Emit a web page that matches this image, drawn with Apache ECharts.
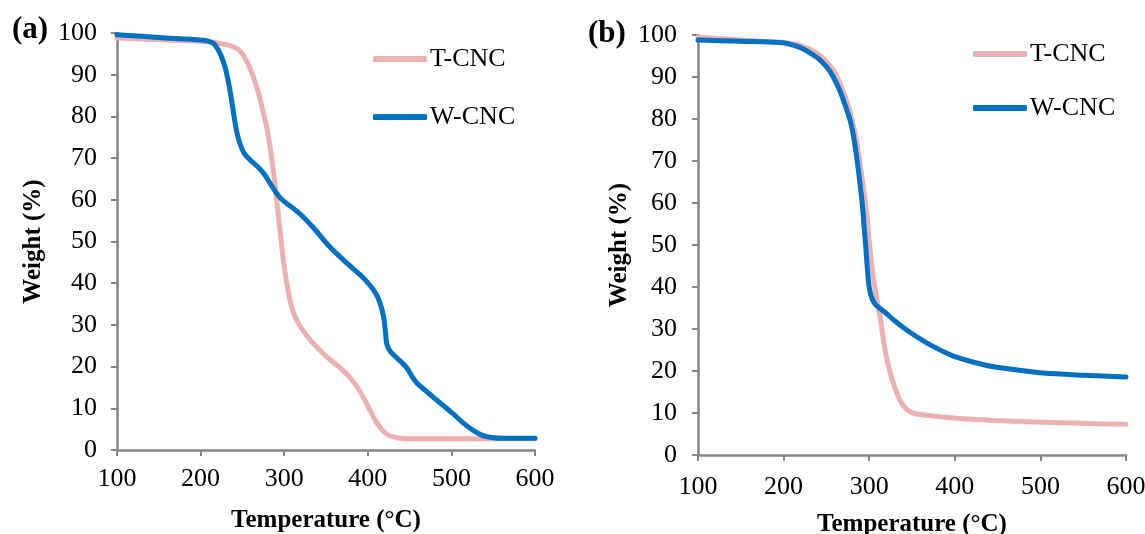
<!DOCTYPE html>
<html>
<head>
<meta charset="utf-8">
<title>TGA curves</title>
<script src="https://cdn.jsdelivr.net/npm/echarts@6/dist/echarts.min.js"></script>
<style>
  html, body { margin: 0; padding: 0; background: #fff; }
  #chart { width: 1145px; height: 534px; }
</style>
</head>
<body>
<div id="chart"></div>
<script>
// panel (a) — [temperature °C, weight %]
const tcncA = [
  [100, 98.8], [150, 98.4], [200, 98.0], [215, 97.8], [228, 97.3], [238, 96.8],
  [243, 96.3], [247, 95.7], [251, 94.7], [255, 93.3], [259, 91.6], [263, 89.5],
  [268, 86.5], [272, 83.5], [276, 80.0], [280, 76.5], [284, 71.5], [288, 65.5],
  [291, 60.0], [294, 54.5], [297, 49.0], [300, 44.0], [304, 39.0], [308, 35.0],
  [314, 31.5], [323, 28.5], [335, 25.5], [350, 22.5], [365, 20.0], [376, 18.0],
  [386, 15.5], [395, 12.5], [404, 9.0], [411, 6.5], [418, 4.6], [426, 3.4],
  [436, 2.9], [450, 2.7], [500, 2.7], [550, 2.7], [600, 2.7]
];
const wcncA = [
  [100, 99.6], [150, 98.9], [200, 98.3], [210, 98.0], [216, 97.4], [221, 96.0],
  [225, 94.3], [229, 92.0], [233, 88.5], [237, 84.0], [240, 80.0], [243, 76.5],
  [247, 73.5], [252, 71.2], [259, 69.6], [268, 68.0], [276, 66.2], [283, 64.0],
  [290, 61.8], [296, 60.3], [305, 58.8], [319, 56.6], [335, 53.3], [355, 48.6],
  [375, 44.8], [393, 41.6], [403, 39.4], [410, 37.4], [415, 35.0], [419, 31.8],
  [421, 28.5], [423, 25.2], [427, 23.6], [434, 22.2], [441, 20.9], [447, 19.6],
  [453, 17.6], [459, 16.0], [468, 14.4], [478, 12.7], [490, 10.7], [502, 8.7],
  [514, 6.5], [526, 4.7], [537, 3.5], [548, 3.0], [562, 2.8], [600, 2.8]
];
// panel (b)
const tcncB = [
  [100, 99.5], [150, 98.8], [200, 98.2], [220, 97.5], [240, 95.5], [255, 92.5],
  [265, 89.0], [275, 83.5], [282, 78.0], [287, 72.5], [291, 67.0], [294, 62.5],
  [297, 57.5], [300, 51.0], [304, 43.5], [309, 37.0], [313, 32.5], [317, 27.0],
  [320, 23.5], [324, 20.0], [330, 16.0], [336, 13.0], [343, 11.0], [351, 10.0],
  [370, 9.4], [398, 8.8], [440, 8.3], [484, 7.9], [540, 7.6], [575, 7.4], [600, 7.3]
];
const wcncB = [
  [100, 98.8], [150, 98.5], [196, 98.2], [211, 97.6], [222, 96.8], [231, 95.7],
  [241, 94.3], [251, 92.2], [258, 90.0], [266, 86.6], [272, 83.2], [278, 79.5],
  [282, 75.5], [286, 70.0], [289, 65.0], [292, 59.5], [294, 54.5], [296, 49.5],
  [298, 44.0], [300, 40.0], [303, 37.4], [307, 35.9], [312, 35.0], [320, 33.7],
  [330, 31.9], [345, 29.6], [360, 27.6], [375, 25.8], [390, 24.3], [400, 23.4],
  [420, 22.2], [445, 21.0], [475, 20.2], [503, 19.5], [550, 19.0], [600, 18.6]
];
const seriesNames = ['T-CNC', 'W-CNC'];
const panelLabels = ['(a)', '(b)'];

const serif = '"Liberation Serif", "Times New Roman", serif';
const axisGray = '#868686';
const pink = '#ebb0b0';
const blue = '#0070c0';

function xAxisFor(gridIndex, gap, margin) {
  return {
    gridIndex, type: 'value', min: 100, max: 600, interval: 100,
    name: 'Temperature (°C)', nameLocation: 'middle', nameGap: gap,
    nameTextStyle: { fontFamily: serif, fontWeight: 'bold', fontSize: 25, color: '#000' },
    axisLine: { lineStyle: { color: axisGray, width: 2.5 } },
    axisTick: { inside: false, length: 6, lineStyle: { color: axisGray, width: 2 } },
    axisLabel: { fontFamily: serif, fontSize: 26, color: '#000', margin },
    splitLine: { show: false }
  };
}
function yAxisFor(gridIndex, gap, margin) {
  return {
    gridIndex, type: 'value', min: 0, max: 100, interval: 10,
    name: 'Weight (%)', nameLocation: 'middle', nameGap: gap,
    nameTextStyle: { fontFamily: serif, fontWeight: 'bold', fontSize: 25, color: '#000' },
    axisLine: { show: true, lineStyle: { color: axisGray, width: 2.5 } },
    axisTick: { show: true, length: 6, lineStyle: { color: axisGray, width: 2 } },
    axisLabel: { fontFamily: serif, fontSize: 26, color: '#000', margin },
    splitLine: { show: false }
  };
}
function line(name, data, color, idx) {
  return {
    name, type: 'line', data, xAxisIndex: idx, yAxisIndex: idx,
    showSymbol: false, smooth: 0.3,
    lineStyle: { color, width: 5, cap: 'round', join: 'round' },
    itemStyle: { color }
  };
}
function legendAt(left, top, gap) {
  return {
    orient: 'vertical', left, top, itemGap: gap,
    icon: 'roundRect', itemWidth: 54, itemHeight: 6,
    data: seriesNames,
    textStyle: { fontFamily: serif, fontSize: 26, color: '#000', padding: [0, 0, 0, -2] }
  };
}

const chart = echarts.init(document.getElementById('chart'));
chart.setOption({
  animation: false,
  backgroundColor: '#fff',
  grid: [
    { left: 117, top: 33, width: 418, height: 417, outerBoundsMode: 'none' },
    { left: 698, top: 35, width: 428, height: 420, outerBoundsMode: 'none' }
  ],
  xAxis: [xAxisFor(0, 58, 16), xAxisFor(1, 57, 19)],
  yAxis: [yAxisFor(0, 71, 20), yAxisFor(1, 66, 21)],
  legend: [legendAt(368, 41, 32), legendAt(968, 36, 28)],
  graphic: [
    { type: 'text', left: 12, top: 14, style: { text: panelLabels[0], font: 'bold 31px ' + serif, fill: '#000' } },
    { type: 'text', left: 588, top: 18, style: { text: panelLabels[1], font: 'bold 31px ' + serif, fill: '#000' } }
  ],
  series: [
    line(seriesNames[0], tcncA, pink, 0),
    line(seriesNames[1], wcncA, blue, 0),
    line(seriesNames[0], tcncB, pink, 1),
    line(seriesNames[1], wcncB, blue, 1)
  ]
});
</script>
</body>
</html>
